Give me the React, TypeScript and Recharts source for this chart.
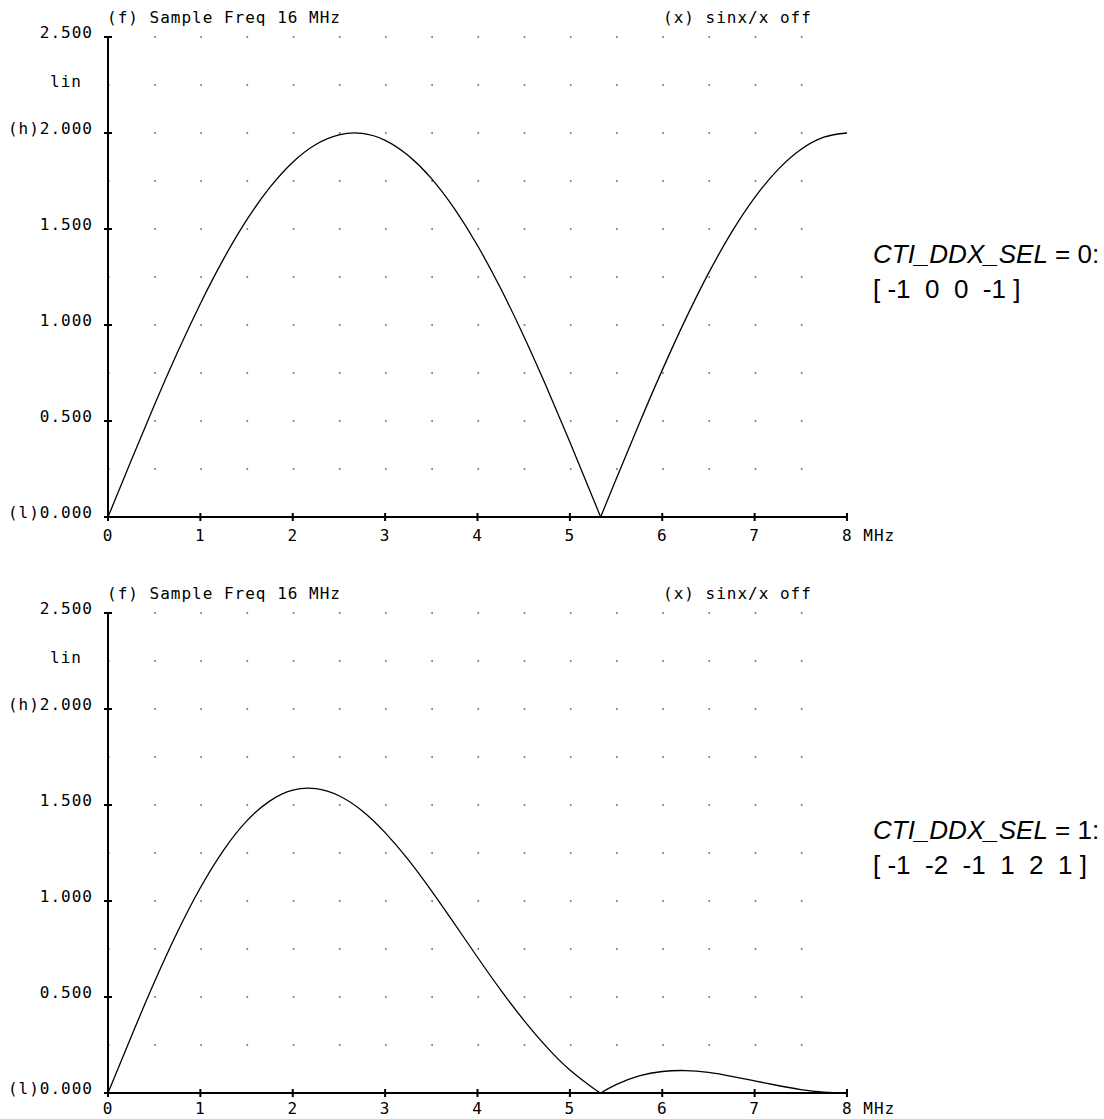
import React from 'react';
import { LineChart, Line, XAxis, YAxis, CartesianGrid } from 'recharts';

// frequency axis, MHz; the notch sits at 16/3 MHz and splits each curve into two lobes
const freqsLow = [
  0, 0.25, 0.5, 0.75, 1, 1.25, 1.5, 1.75, 2, 2.25, 2.5, 2.75, 3, 3.25, 3.5, 3.75,
  4, 4.25, 4.5, 4.75, 5, 5.25, 5.333,
];
const freqsHigh = [5.333, 5.5, 5.75, 6, 6.25, 6.5, 6.75, 7, 7.25, 7.5, 7.75, 8];

// CTI_DDX_SEL = 0 : [-1 0 0 -1]
const sel0Low = [
  0, 0.293, 0.581, 0.855, 1.111, 1.343, 1.546, 1.715, 1.848, 1.94, 1.99, 1.998, 1.962, 1.883, 1.764, 1.606,
  1.414, 1.191, 0.943, 0.674, 0.39, 0.098, 0,
];
const sel0High = [0, 0.196, 0.486, 0.765, 1.028, 1.269, 1.482, 1.663, 1.808, 1.914, 1.978, 2.0];

// CTI_DDX_SEL = 1 : [-1 -2 -1 1 2 1]
const sel1Low = [
  0, 0.292, 0.575, 0.837, 1.069, 1.264, 1.416, 1.52, 1.577, 1.585, 1.548, 1.47, 1.356, 1.215, 1.054, 0.882,
  0.707, 0.537, 0.38, 0.239, 0.12, 0.026, 0,
];
const sel1High = [0, 0.044, 0.089, 0.112, 0.117, 0.107, 0.087, 0.063, 0.039, 0.018, 0.005, 0];

const xTicks = [0, 1, 2, 3, 4, 5, 6, 7, 8];
const yTicks = [0, 0.5, 1, 1.5, 2, 2.5];
const yTickLabels: Record<string, string> = {
  '0': '(l)0.000',
  '0.5': '0.500',
  '1': '1.000',
  '1.5': '1.500',
  '2': '(h)2.000',
  '2.5': '2.500',
};
const dotRows = [0.25, 0.5, 0.75, 1, 1.25, 1.5, 1.75, 2, 2.25, 2.5];

const headerLeft = '(f) Sample Freq 16 MHz';
const headerRight = '(x) sinx/x off';

const MONO = '"DejaVu Sans Mono", monospace';
const monoText = { fontFamily: MONO, fontSize: 16, letterSpacing: 1, fill: '#000' };

const XTick = ({ x, y, payload, labelDy }: any) => {
  const v = payload.value;
  return (
    <g>
      <line x1={x} x2={x} y1={y - 4} y2={y + 4} stroke="#000" strokeWidth={2} />
      {v === 8 ? (
        <text x={x - 5} y={y + labelDy} textAnchor="start" style={monoText}>8 MHz</text>
      ) : (
        <text x={x} y={y + labelDy} textAnchor="middle" style={monoText}>{String(v)}</text>
      )}
    </g>
  );
};

const YTick = ({ x, y, payload }: any) => (
  <g>
    <line x1={x - 4} x2={x + 4} y1={y} y2={y} stroke="#000" strokeWidth={2} />
    <text x={x - 15} y={y + 1} textAnchor="end" style={monoText}>{yTickLabels[String(payload.value)]}</text>
  </g>
);

const toRows = (fs: number[], vs: number[]) => fs.map((f, i) => ({ f, gain: vs[i] }));

type PanelProps = {
  top: number;
  low: number[];
  high: number[];
  highCurve: 'natural' | 'monotone';
  labelDy: number;
  selector: string;
  taps: string;
};

const Panel: React.FC<PanelProps> = ({ top, low, high, highCurve, labelDy, selector, taps }) => {
  const lowRows = toRows(freqsLow, low);
  const highRows = toRows(freqsHigh, high);
  return (
    <div style={{ position: 'absolute', left: 0, top, width: 1104, height: 560 }}>
      <LineChart
        width={1104}
        height={560}
        margin={{ top: 37, right: 257, bottom: 0, left: 0 }}
        style={{ overflow: 'visible' }}
      >
        <CartesianGrid
          vertical={false}
          horizontalValues={dotRows}
          stroke="#555"
          strokeWidth={1.6}
          strokeDasharray="1.6 44.5875"
        />
        <XAxis
          type="number"
          dataKey="f"
          domain={[0, 8]}
          ticks={xTicks}
          height={43}
          axisLine={{ stroke: '#000', strokeWidth: 2 }}
          tickLine={false}
          tickSize={0}
          tickMargin={0}
          tick={<XTick labelDy={labelDy} />}
          interval={0}
          allowDuplicatedCategory={false}
        />
        <YAxis
          type="number"
          domain={[0, 2.5]}
          ticks={yTicks}
          width={108}
          axisLine={{ stroke: '#000', strokeWidth: 2 }}
          tickLine={false}
          tickSize={0}
          tickMargin={0}
          tick={<YTick />}
          interval={0}
        />
        <Line
          data={lowRows}
          type="natural"
          dataKey="gain"
          stroke="#000"
          strokeWidth={1.3}
          dot={false}
          isAnimationActive={false}
        />
        <Line
          data={highRows}
          type={highCurve}
          dataKey="gain"
          stroke="#000"
          strokeWidth={1.3}
          dot={false}
          isAnimationActive={false}
        />
      </LineChart>
      <div style={{ position: 'absolute', left: 107, top: 9, fontFamily: MONO, fontSize: 16, letterSpacing: 1, lineHeight: '18px', whiteSpace: 'pre' }}>
        {headerLeft}
      </div>
      <div style={{ position: 'absolute', left: 663, top: 9, fontFamily: MONO, fontSize: 16, letterSpacing: 1, lineHeight: '18px', whiteSpace: 'pre' }}>
        {headerRight}
      </div>
      <div style={{ position: 'absolute', left: 40, width: 52, top: 73, textAlign: 'center', fontFamily: MONO, fontSize: 16, letterSpacing: 1, lineHeight: '18px' }}>
        lin
      </div>
      <div style={{ position: 'absolute', left: 873, top: 237, fontFamily: 'Arial, "Liberation Sans", sans-serif', fontSize: 26, lineHeight: '35px', whiteSpace: 'pre' }}>
        <div><i>CTI_DDX_SEL</i> = {selector}:</div>
        <div>{taps}</div>
      </div>
    </div>
  );
};

export default function App() {
  return (
    <div style={{ position: 'absolute', left: 0, top: 0, width: 1104, height: 1119, background: '#fff', overflow: 'hidden' }}>
      <Panel top={0} low={sel0Low} high={sel0High} highCurve="monotone" labelDy={24} selector="0" taps="[ -1  0  0  -1 ]" />
      <Panel top={576} low={sel1Low} high={sel1High} highCurve="natural" labelDy={21} selector="1" taps="[ -1  -2  -1  1  2  1 ]" />
    </div>
  );
}
